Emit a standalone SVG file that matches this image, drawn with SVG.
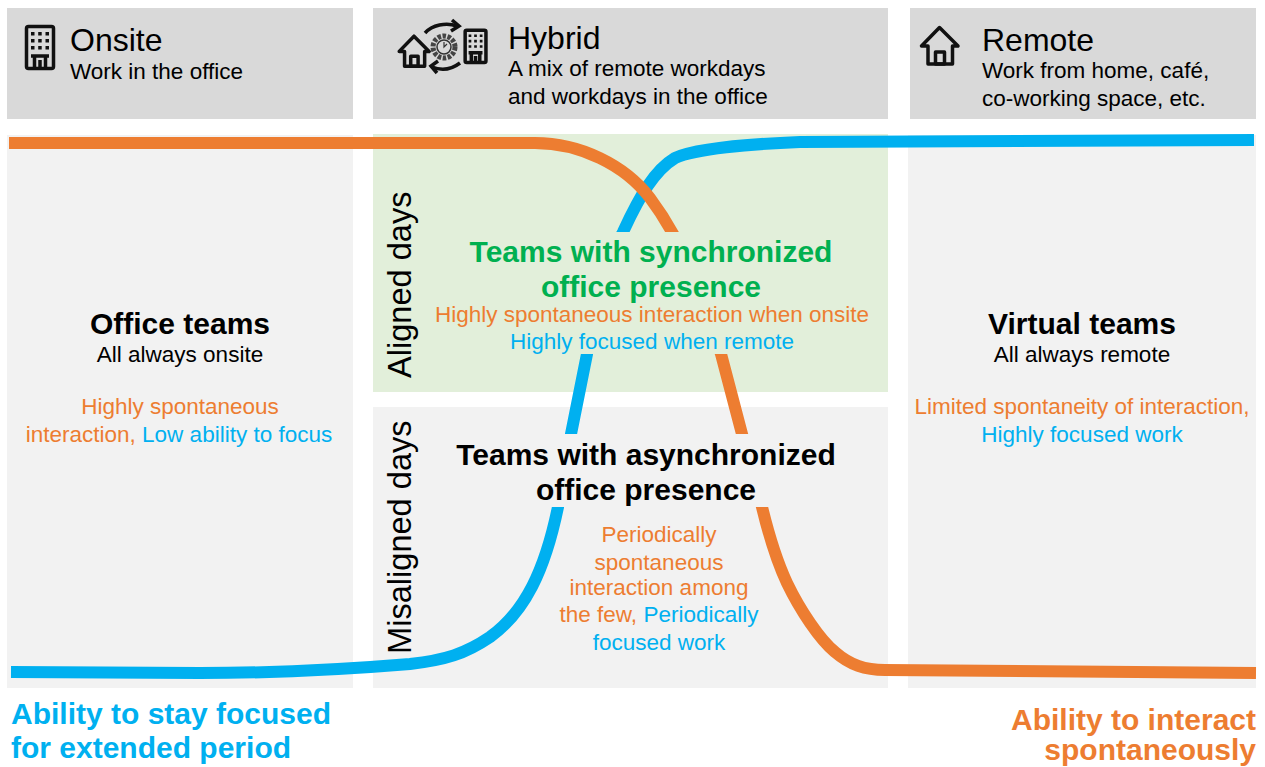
<svg xmlns="http://www.w3.org/2000/svg" width="1265" height="767" viewBox="0 0 1265 767">
<style>
text{font-family:"Liberation Sans",Arial,sans-serif;fill:#000}
.h{font-size:32px}.r{font-size:32.6px}.s{font-size:22.5px}.t{font-size:30px;font-weight:bold}
.o{fill:#ED7D31}.b{fill:#00B0F0}.c{text-anchor:middle}
.hd{fill:#D9D9D9}.bd{fill:#F2F2F2}
.ic{fill:none;stroke:#111;stroke-width:3.5;stroke-linejoin:round;vector-effect:non-scaling-stroke}
.curve{fill:none;stroke-width:12}
.ar{fill:none;stroke:#111;stroke-width:3.5}
</style>
<defs>
<clipPath id="bands"><rect x="0" y="0" width="1265" height="232"/><rect x="0" y="354" width="1265" height="80"/><rect x="0" y="507" width="1265" height="260"/></clipPath>
<g id="bld"><rect class="ic" x="1.500" y="1.500" width="27" height="42" rx="2"/><path d="M6 7h3.500v3.500H6zM13.200 7h3.500v3.500h-3.500zM20.500 7h3.500v3.500h-3.500zM6 14h3.500v3.500H6zM13.200 14h3.500v3.500h-3.500zM20.500 14h3.500v3.500h-3.500zM6 21h3.500v3.500H6zM13.200 21h3.500v3.500h-3.500zM20.500 21h3.500v3.500h-3.500z" fill="#111"/><path class="ic" d="M6 31H24M9.500 43V31M20.500 43V31M15 43V35"/></g>
<g id="house"><path class="ic" d="M1.500 20L19.500 1.500L38 20H32.500V38H8V20Z"/><rect class="ic" x="15.500" y="26" width="9" height="12"/></g>
</defs>
<g id="panels">
<rect class="bd" x="7" y="135" width="346" height="553"/>
<rect fill="#E2EFDA" x="373" y="134" width="515" height="258"/>
<rect class="bd" x="373" y="407" width="515" height="281"/>
<rect class="bd" x="908" y="135" width="348" height="553"/>
</g>
<g id="connectors" clip-path="url(#bands)">
<path class="curve" stroke="#00B0F0" d="M11 672 L200 673 C280 673 350 669 410 664 C445 660 465 654 490 637 C525 612 545 570 558 507 L571 434 L587 354 C597 300 608 260 623 232 C640 195 655 170 675 158 C695 149 750 144 800 142 L1254 140"/>
<path class="curve" stroke="#ED7D31" d="M9 143 L535 143 C580 143 625 165 650 198 C665 218 680 245 690 270 C700 295 712 325 721 354 L742 434 L762 507 C770 540 780 568 787 583 C800 610 820 640 835 652 C850 665 865 670 885 670 L1256 673"/>
</g>
<g id="onsite">
<rect class="hd" x="7" y="8" width="346" height="111"/>
<use href="#bld" x="25" y="25"/>
<text class="h" x="70" y="51">Onsite</text>
<text class="s" x="70" y="79">Work in the office</text>
</g>
<g id="hybrid">
<rect class="hd" x="373" y="8" width="515" height="111"/>
<use href="#house" transform="translate(398 35) scale(.82)"/>
<use href="#bld" transform="translate(464 29) scale(.77)"/>
<circle cx="444" cy="47" r="11" fill="none" stroke="#444" stroke-width="5" stroke-dasharray="3.500 1.500"/>
<circle cx="444" cy="47" r="7" fill="none" stroke="#333" stroke-width="1.500"/>
<path d="M444 42V47L447 44" fill="none" stroke="#333" stroke-width="1.200"/>
<path class="ar" d="M425 33C432 25 446 22 457 26"/>
<path class="ar" d="M452 20L459 26L451 31"/>
<path class="ar" d="M460 63C452 69 442 71 432 67"/>
<path class="ar" d="M438 61L431 66L437 73"/>
<text class="h" x="508" y="49">Hybrid</text>
<text class="s" x="508" y="76">A mix of remote workdays</text>
<text class="s" x="508" y="104">and workdays in the office</text>
</g>
<g id="remote">
<rect class="hd" x="910" y="8" width="346" height="111"/>
<use href="#house" x="920" y="26"/>
<text class="h" x="982" y="51">Remote</text>
<text class="s" x="982" y="78">Work from home, café,</text>
<text class="s" x="982" y="106">co-working space, etc.</text>
</g>
<g id="office-teams">
<text class="t c" x="180" y="334">Office teams</text>
<text class="s c" x="180" y="362">All always onsite</text>
<text class="s c o" x="180" y="414">Highly spontaneous</text>
<text class="s c" x="179" y="442"><tspan class="o">interaction, </tspan><tspan class="b">Low ability to focus</tspan></text>
</g>
<g id="synchronized">
<text transform="translate(411 378) rotate(-90)" class="r">Aligned days</text>
<text class="t c" x="651" y="262" style="fill:#00B050">Teams with synchronized</text>
<text class="t c" x="651" y="297" style="fill:#00B050">office presence</text>
<text class="s c o" x="652" y="322">Highly spontaneous interaction when onsite</text>
<text class="s c b" x="652" y="349">Highly focused when remote</text>
</g>
<g id="asynchronized">
<text transform="translate(411 654) rotate(-90)" class="r">Misaligned days</text>
<text class="t c" x="646" y="465">Teams with asynchronized</text>
<text class="t c" x="646" y="500">office presence</text>
<text class="s c o" x="659" y="542">Periodically</text>
<text class="s c o" x="659" y="570">spontaneous</text>
<text class="s c o" x="659" y="595">interaction among</text>
<text class="s c" x="659" y="622"><tspan class="o">the few, </tspan><tspan class="b">Periodically</tspan></text>
<text class="s c b" x="659" y="650">focused work</text>
</g>
<g id="virtual-teams">
<text class="t c" x="1082" y="334">Virtual teams</text>
<text class="s c" x="1082" y="362">All always remote</text>
<text class="s c o" x="1082" y="414">Limited spontaneity of interaction,</text>
<text class="s c b" x="1082" y="442">Highly focused work</text>
</g>
<g id="axis-focus">
<text class="t b" x="11" y="724">Ability to stay focused</text>
<text class="t b" x="11" y="758">for extended period</text>
</g>
<g id="axis-interact">
<text class="t o" x="1256" y="730" text-anchor="end">Ability to interact</text>
<text class="t o" x="1256" y="760" text-anchor="end">spontaneously</text>
</g>
</svg>
